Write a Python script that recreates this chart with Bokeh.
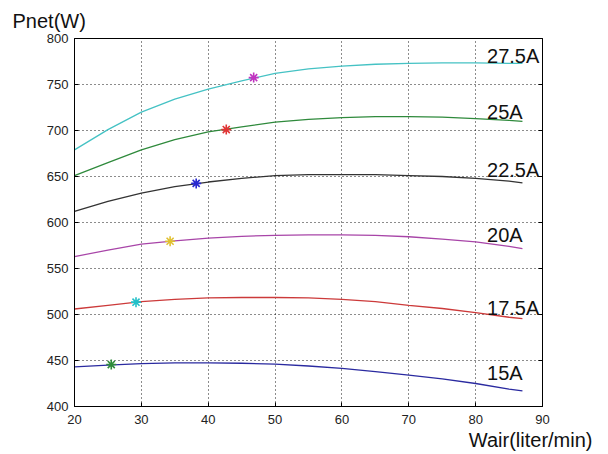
from bokeh.plotting import figure, ColumnDataSource
from bokeh.models import Range1d, LinearAxis, Title, FixedTicker
from bokeh.core.properties import value
from bokeh.embed import file_html
from bokeh.resources import INLINE

# Air flow (liter/min) sample points
wair = [20, 25, 30, 35, 40, 45, 50, 55, 60, 65, 70, 75, 80, 85, 87]

# Net power (W) for each stack current
pnet_15 = [443, 445, 446.5, 447.5, 447.5, 447, 446, 444, 441.5, 438, 434, 430, 425, 419, 417]
pnet_175 = [506, 510, 514, 516.5, 518, 518.5, 518.5, 518, 516.5, 514, 510, 506.5, 502, 497, 495.5]
pnet_20 = [563, 570, 576.5, 580, 583, 585, 586, 586.5, 586.5, 586, 584.5, 582, 579, 574, 571.5]
pnet_225 = [612, 623, 632, 639, 644, 648, 651, 652, 652, 652, 651, 650, 648, 645, 643]
pnet_25 = [651, 665, 679, 690, 698.5, 704, 709, 712, 714, 715, 715, 714.5, 713, 711, 710]
pnet_275 = [679, 701, 720, 734, 745, 754, 762, 767, 770, 772, 773, 773.5, 773.5, 773, 773]

currents = ["15A", "17.5A", "20A", "22.5A", "25A", "27.5A"]
series = [pnet_15, pnet_175, pnet_20, pnet_225, pnet_25, pnet_275]
line_colors = ["#2a2aa0", "#cc3a3a", "#a845a8", "#333333", "#2f8a3c", "#45c2c4"]

# Optimal operating points (marked)
opt_wair = [25.5, 29.2, 34.3, 38.2, 42.7, 46.8]
opt_pnet = [445.6, 513.4, 579.6, 642.5, 701, 757.5]
marker_colors = ["#2e8b3a", "#22c0c8", "#e0c030", "#2828d0", "#e03434", "#c034c0"]

# Curve label anchors
label_x = [81.7, 81.7, 81.7, 81.7, 81.7, 81.7]
label_y = [436.6, 506.9, 586.9, 657.3, 719.9, 781.5]

x_ticks = [20, 30, 40, 50, 60, 70, 80, 90]
y_ticks = [400, 450, 500, 550, 600, 650, 700, 750, 800]

FONT = "Liberation Sans"

p = figure(width=608, height=454, output_backend="svg", toolbar_location=None,
           x_range=Range1d(20, 90), y_range=Range1d(400, 800),
           min_border_left=74, min_border_right=66, min_border_top=38, min_border_bottom=48,
           background_fill_color="white", border_fill_color="white")
p.outline_line_color = "black"
p.outline_line_width = 1

p.title.text = "Pnet(W)"
p.title.align = "left"
p.title.offset = -62
p.title.standoff = 14
p.title.text_font = FONT
p.title.text_font_size = "20px"
p.title.text_font_style = "normal"
p.title.text_color = "#111111"

for ax in (p.xaxis[0], p.yaxis[0]):
    ax.major_tick_in = 4
    ax.major_tick_out = 0
    ax.minor_tick_line_color = None
    ax.axis_line_color = "black"
    ax.major_tick_line_color = "black"
    ax.major_label_text_font = FONT
    ax.major_label_text_font_size = "13px"
    ax.major_label_text_color = "#222222"
p.xaxis[0].ticker = FixedTicker(ticks=x_ticks)
p.yaxis[0].ticker = FixedTicker(ticks=y_ticks)
p.xaxis[0].major_label_standoff = 8
p.yaxis[0].major_label_standoff = 6

ax_r = LinearAxis(ticker=FixedTicker(ticks=y_ticks), major_tick_in=4, major_tick_out=0,
                  minor_tick_line_color=None, major_label_standoff=0,
                  major_label_overrides={t: "" for t in y_ticks}, axis_line_color="black")
p.add_layout(ax_r, "right")

p.add_layout(Title(text="Wair(liter/min)", align="right", offset=-50, standoff=0,
                   text_font=FONT, text_font_size="20px", text_font_style="normal",
                   text_color="#111111"), "below")

p.xgrid.ticker = FixedTicker(ticks=x_ticks)
p.ygrid.ticker = FixedTicker(ticks=y_ticks)
for g in (p.xgrid[0], p.ygrid[0]):
    g.grid_line_color = "black"
    g.grid_line_dash = "1 3"
    g.grid_line_alpha = 0.9

for vals, col in zip(series, line_colors):
    p.line(wair, vals, line_color=col, line_width=1.3)

p.scatter(opt_wair, opt_pnet, marker="asterisk", size=10, line_width=1.6,
          line_color=marker_colors)

src = ColumnDataSource(dict(x=label_x, y=label_y, t=currents))
p.text(x="x", y="y", text="t", source=src, text_font=value(FONT), text_font_size="20px",
       text_color="#111111", text_baseline="alphabetic", text_align="left")

open("out.html", "w").write(file_html(p, INLINE))
